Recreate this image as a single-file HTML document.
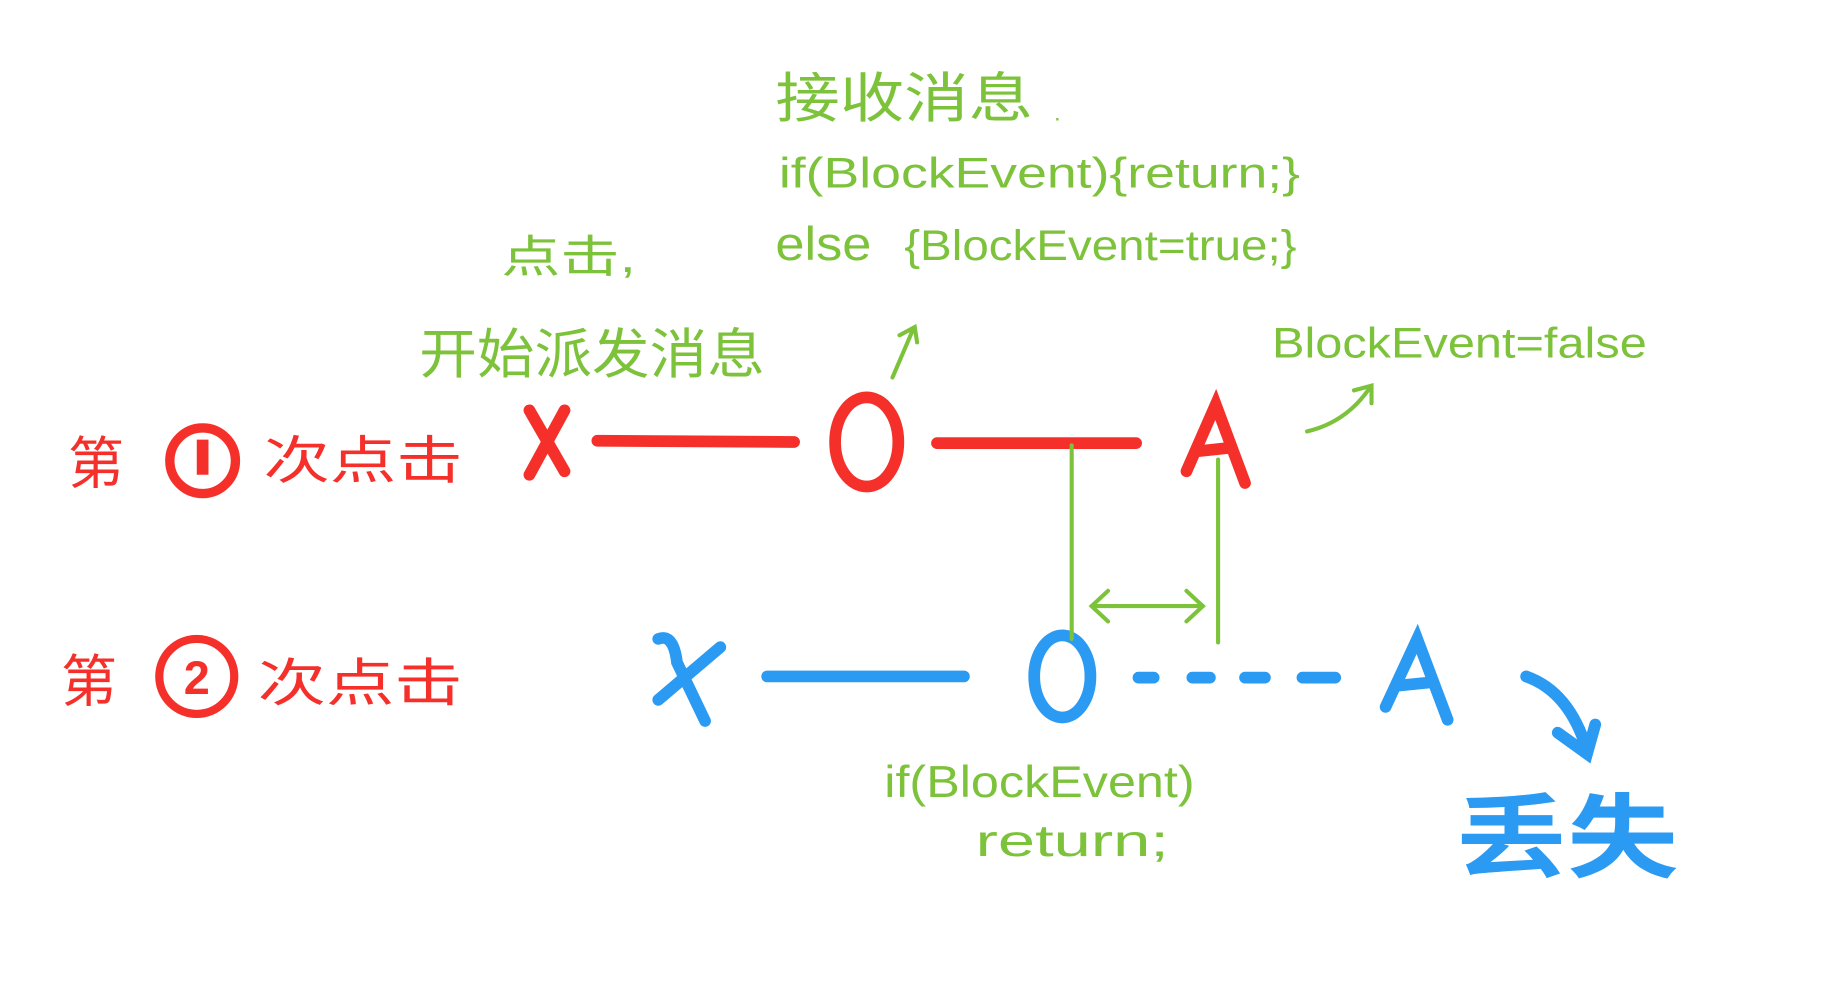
<!DOCTYPE html>
<html><head><meta charset="utf-8"><style>
html,body{margin:0;padding:0;background:#fff;}
svg{display:block}
text{font-family:"Liberation Sans","Noto Sans CJK SC",sans-serif;}
</style></head><body>
<svg width="1833" height="1000" viewBox="0 0 1565 853" preserveAspectRatio="none" xmlns="http://www.w3.org/2000/svg">
<rect width="1565" height="853" fill="#fff"/>
<g fill="#f5302a" stroke="none">
<text x="58" y="412" font-size="48">第</text>
<text x="225" y="408" font-size="44" textLength="170" lengthAdjust="spacingAndGlyphs">次点击</text>
</g>
<circle cx="173" cy="393" r="28" fill="none" stroke="#f5302a" stroke-width="8"/>
<line x1="173" y1="375" x2="173" y2="405" stroke="#f5302a" stroke-width="10"/>
<g stroke="#f5302a" stroke-width="10" stroke-linecap="round" fill="none">
<path d="M452 350 L482 402 M482 350 L452 405"/>
<line x1="510" y1="376" x2="678" y2="377"/>
<ellipse cx="740" cy="377" rx="27" ry="38"/>
<line x1="800" y1="378" x2="970" y2="378"/>
<path d="M1013 402 L1038 345 L1063 412 M1022 385 L1050 382"/>
</g>
<g fill="#f5302a">
<text x="52" y="598" font-size="48">第</text>
<text x="220" y="598" font-size="44" textLength="175" lengthAdjust="spacingAndGlyphs">次点击</text>
</g>
<circle cx="168" cy="577" r="32" fill="none" stroke="#f5302a" stroke-width="7"/>
<text x="168" y="592" font-size="40" fill="#f5302a" text-anchor="middle" font-weight="bold">2</text>
<g stroke="#2b9af3" stroke-width="10" stroke-linecap="round" fill="none">
<path d="M562 545 Q575 540 578 565 L602 615 M615 552 L562 597"/>
<line x1="655" y1="577" x2="823" y2="577"/>
<ellipse cx="907" cy="577" rx="24" ry="35"/>
<path d="M972 578 H985 M1018 578 H1033 M1063 578 H1080 M1112 578 H1140"/>
<path d="M1183 603 L1210 545 L1236 614 M1192 585 L1222 582"/>
<path d="M1303 577 Q1340 590 1355 640 M1330 625 L1355 643 L1362 618"/>
</g>
<text x="1243" y="742" font-size="78" fill="#2b9af3" font-weight="bold" textLength="190" lengthAdjust="spacingAndGlyphs">丢失</text>
<g fill="#7cc23a">
<text x="662" y="100" font-size="46" textLength="220" lengthAdjust="spacingAndGlyphs">接收消息</text>
<text x="900" y="103" font-size="20">.</text>
<text x="665" y="160" font-size="36" textLength="445" lengthAdjust="spacingAndGlyphs">if(BlockEvent){return;}</text>
<text x="662" y="222" font-size="40" textLength="82" lengthAdjust="spacingAndGlyphs">else</text>
<text x="772" y="222" font-size="36" textLength="335" lengthAdjust="spacingAndGlyphs">{BlockEvent=true;}</text>
<text x="428" y="232" font-size="38" textLength="115" lengthAdjust="spacingAndGlyphs">点击,</text>
<text x="358" y="318" font-size="46" textLength="295" lengthAdjust="spacingAndGlyphs">开始派发消息</text>
<text x="1086" y="305" font-size="36" textLength="320" lengthAdjust="spacingAndGlyphs">BlockEvent=false</text>
<text x="755" y="680" font-size="38" textLength="265" lengthAdjust="spacingAndGlyphs">if(BlockEvent)</text>
<text x="833" y="730" font-size="38" textLength="165" lengthAdjust="spacingAndGlyphs">return;</text>
</g>
<g stroke="#7cc23a" stroke-width="3.5" fill="none" stroke-linecap="round">
<line x1="915" y1="380" x2="915" y2="545"/>
<line x1="1040" y1="392" x2="1040" y2="548"/>
<path d="M932 517 H1027 M946 504 L932 517 L946 530 M1013 504 L1027 517 L1013 530"/>
<path d="M762 322 L780 280 M768 286 L781 279 L783 292"/>
<path d="M1116 368 Q1150 360 1170 330 M1156 333 L1171 329 L1171 344"/>
</g>
</svg>
</body></html>
